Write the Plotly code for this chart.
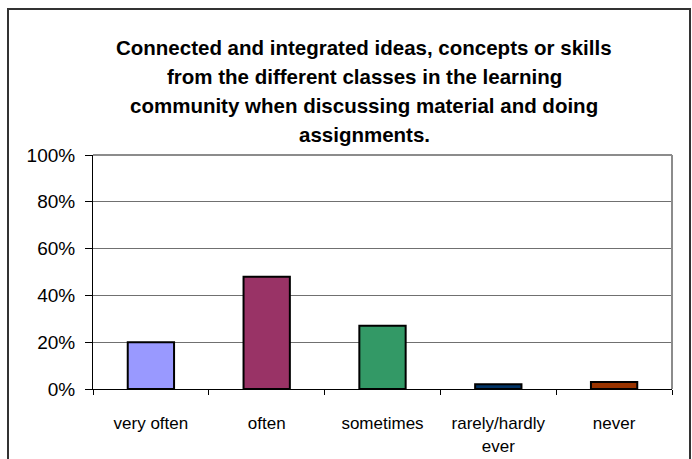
import plotly.graph_objects as go

categories = ["very often", "often", "sometimes", "rarely/hardly<br>ever", "never"]
values = [20, 48, 27, 2, 3]
colors = ["#9999FF", "#993366", "#339966", "#003366", "#993300"]
y_ticks = [0, 20, 40, 60, 80, 100]
y_tick_labels = ["0%", "20%", "40%", "60%", "80%", "100%"]
title_lines = [
    "Connected and integrated ideas, concepts or skills",
    "from the different classes in the learning",
    "community when discussing material and doing",
    "assignments.",
]

W, H = 692, 459
L, R, T, B = 93, 20, 155, 70
pw, ph = W - L - R, H - T - B

def px_x(x):
    return (x - L) / pw

def px_y(y):
    return (H - B - y) / ph

fig = go.Figure()
fig.add_trace(go.Bar(
    x=categories, y=values,
    marker=dict(color=colors, line=dict(color="black", width=2)),
    hoverinfo="skip",
))

font_family = "Liberation Sans, Arial, sans-serif"

annotations = []
title_y = [47, 76, 105, 134]
for txt, yy in zip(title_lines, title_y):
    annotations.append(dict(
        text="<b>%s</b>" % txt, x=px_x(W / 2 + 18), y=px_y(yy),
        xref="paper", yref="paper", xanchor="center", yanchor="middle",
        showarrow=False, font=dict(family=font_family, size=20.5, color="black"),
    ))

shapes = [
    dict(type="rect", xref="paper", yref="paper",
         x0=px_x(8), x1=px_x(690), y0=px_y(9), y1=px_y(470),
         line=dict(color="#333333", width=2), layer="below"),
    dict(type="line", xref="paper", yref="paper", x0=0, x1=1, y0=1, y1=1,
         line=dict(color="#8c8c8c", width=2)),
    dict(type="line", xref="paper", yref="paper", x0=1, x1=1, y0=0, y1=1,
         line=dict(color="#8c8c8c", width=2)),
]

fig.update_layout(
    width=W, height=H,
    margin=dict(l=L, r=R, t=T, b=B, pad=0, autoexpand=False),
    paper_bgcolor="white", plot_bgcolor="white",
    showlegend=False,
    bargap=0.6,
    annotations=annotations,
    shapes=shapes,
    font=dict(family=font_family, color="black"),
)
fig.update_xaxes(
    showline=True, linecolor="black", linewidth=1,
    ticks="outside", tickson="boundaries", ticklen=5, tickcolor="black",
    tickfont=dict(size=17, family=font_family, color="black"),
    ticklabelstandoff=19,
    showgrid=False, automargin=False,
)
fig.update_yaxes(
    range=[0, 100], tickvals=y_ticks, ticktext=y_tick_labels,
    showline=True, linecolor="black", linewidth=1,
    ticks="outside", ticklen=7, tickcolor="black",
    tickfont=dict(size=19, family=font_family, color="black"),
    ticklabelstandoff=6,
    showgrid=True, gridcolor="#707070", gridwidth=1,
    zeroline=False, automargin=False,
)

fig.write_html(
    "out.html",
    config={"displayModeBar": False},
    post_script="document.body.style.margin='0px';document.body.style.overflow='hidden';",
)
